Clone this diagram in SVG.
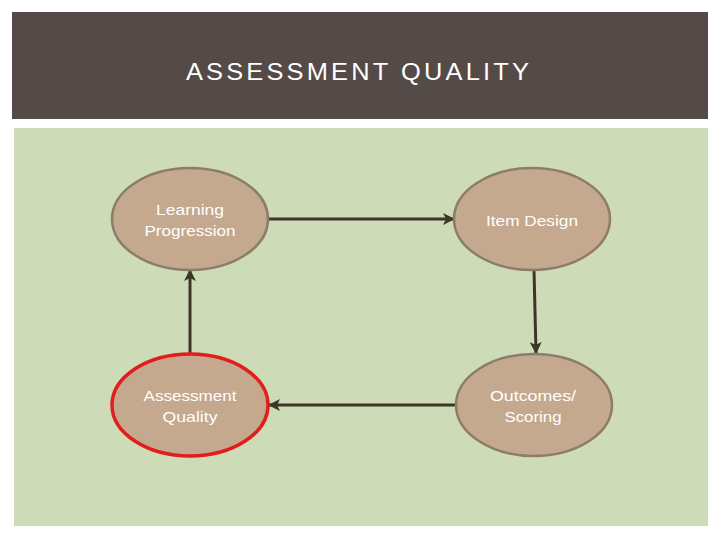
<svg xmlns="http://www.w3.org/2000/svg" width="720" height="540" viewBox="0 0 720 540">
  <defs>
    <style>
      .node { fill: #c4a98e; stroke: #8c7d68; stroke-width: 2.5; }
      .sel { stroke: #e21d1d; stroke-width: 3.5; }
      .lbl { font-family: "Liberation Sans", Arial, sans-serif; font-size: 15px; fill: #ffffff; text-anchor: middle; }
      .conn { stroke: #3e3626; stroke-width: 3; fill: none; marker-end: url(#ah); }
    </style>
    <marker id="ah" viewBox="0 0 12 12" refX="11" refY="6" markerWidth="12" markerHeight="12" markerUnits="userSpaceOnUse" orient="auto">
      <path d="M0,0 L12,6 L0,12 L3,6 Z" fill="#3e3626"/>
    </marker>
  </defs>
  <rect x="0" y="0" width="720" height="540" fill="#ffffff"/>
  <rect id="header" x="12" y="12" width="696" height="107" fill="#544b48"/>
  <text x="359" y="80" font-family="'Liberation Sans', Arial, sans-serif" font-size="24" fill="#ffffff" text-anchor="middle" letter-spacing="3" textLength="346" lengthAdjust="spacingAndGlyphs">ASSESSMENT QUALITY</text>
  <rect id="panel" x="14" y="128" width="694" height="398" fill="#cddbb7"/>

  <g id="connectors">
    <line class="conn" x1="268" y1="219" x2="454" y2="219"/>
    <line class="conn" x1="534" y1="270" x2="536" y2="353"/>
    <line class="conn" x1="456" y1="405" x2="269" y2="405"/>
    <line class="conn" x1="190" y1="353" x2="190" y2="270"/>
  </g>

  <g id="learning-progression">
    <ellipse class="node" cx="190" cy="219" rx="78" ry="51"/>
    <text class="lbl" x="190" y="215" textLength="68" lengthAdjust="spacingAndGlyphs">Learning</text>
    <text class="lbl" x="190" y="236" textLength="91" lengthAdjust="spacingAndGlyphs">Progression</text>
  </g>
  <g id="item-design">
    <ellipse class="node" cx="532" cy="219" rx="78" ry="51"/>
    <text class="lbl" x="532" y="226" textLength="92" lengthAdjust="spacingAndGlyphs">Item Design</text>
  </g>
  <g id="outcomes-scoring">
    <ellipse class="node" cx="534" cy="405" rx="78" ry="51"/>
    <text class="lbl" x="533" y="401" textLength="86" lengthAdjust="spacingAndGlyphs">Outcomes/</text>
    <text class="lbl" x="533" y="422" textLength="57" lengthAdjust="spacingAndGlyphs">Scoring</text>
  </g>
  <g id="assessment-quality">
    <ellipse class="node sel" cx="190" cy="405" rx="78" ry="51"/>
    <text class="lbl" x="190" y="401" textLength="93" lengthAdjust="spacingAndGlyphs">Assessment</text>
    <text class="lbl" x="190" y="422" textLength="55" lengthAdjust="spacingAndGlyphs">Quality</text>
  </g>
</svg>
